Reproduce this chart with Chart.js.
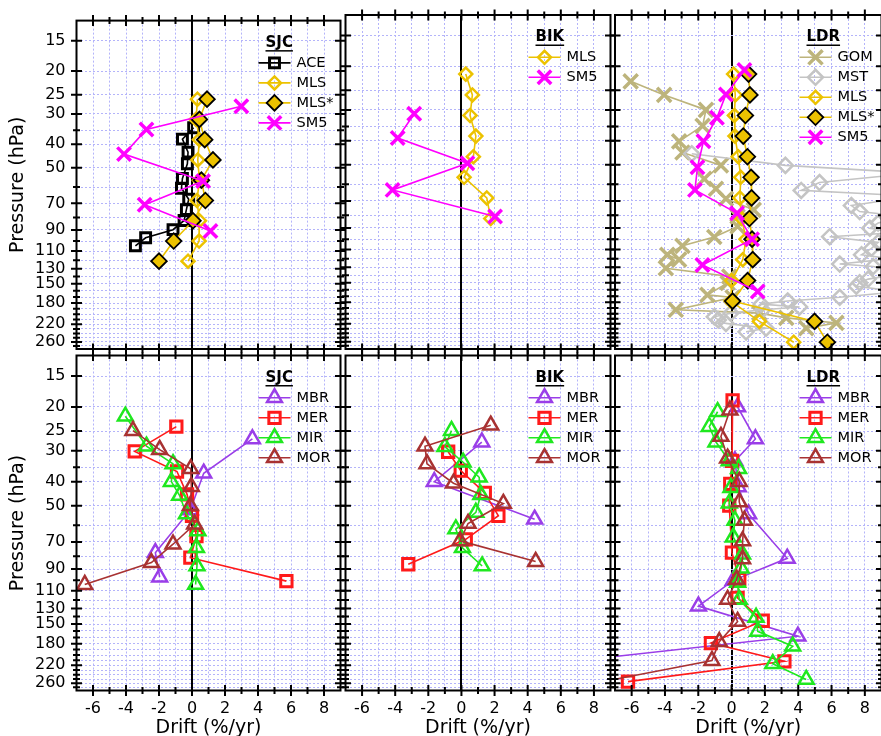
<!DOCTYPE html>
<html><head><meta charset="utf-8">
<script src="https://cdn.jsdelivr.net/npm/chart.js@4/dist/chart.umd.min.js"></script>
<style>
html,body{margin:0;padding:0;background:#fff;width:881px;height:736px;overflow:hidden;position:relative;}
canvas{position:absolute;left:0;top:0;}
</style></head><body>
<canvas id="p0" width="900" height="740"></canvas>
<canvas id="p1" width="900" height="740"></canvas>
<canvas id="p2" width="900" height="740"></canvas>
<canvas id="p3" width="900" height="740"></canvas>
<canvas id="p4" width="900" height="740"></canvas>
<canvas id="p5" width="900" height="740"></canvas>
<script>
// ---------- tick values / labels ----------
const X_TICK_VALUES = [-7,-6,-5,-4,-3,-2,-1,0,1,2,3,4,5,6,7,8,9];
const X_TICK_LABELS = ['-6','-4','-2','0','2','4','6','8'];
const Y_TICK_VALUES = [15,20,25,30,35,40,50,60,70,80,90,100,110,120,130,140,150,160,170,180,190,200,210,220,230,240,250,260,270];
const Y_TICK_LABELS = [15,20,25,30,40,50,70,90,110,130,150,180,220,260];
const SITES = ['SJC','BIK','LDR'];

// ---------- top row: SJC ----------
const SJC_ACE_P = [34.2,38.1,43.1,48.1,55.3,60.7,67.3,74.3,82.3,89.8,97,104.6];
const SJC_ACE_D = [0.10,-0.58,-0.24,-0.28,-0.58,-0.64,-0.20,-0.34,-0.48,-1.15,-2.81,-3.43];
const SJC_MLS_P = [26.1,31.6,38.3,46.4,56.2,68.1,82.5,100,121];
const SJC_MLS_D = [0.33,0.25,0.45,0.35,0.45,0.30,0.45,0.43,-0.24];
const SJC_MLSS_D = [0.91,0.45,0.77,1.27,0.57,0.81,0.06,-1.11,-2.0];
const SJC_SM5_P = [27.9,34.8,43.9,56.7,70.9,90.9];
const SJC_SM5_D = [2.99,-2.76,-4.12,0.67,-2.87,1.12];
// ---------- top row: BIK ----------
const BIK_MLS_P = [21.5,26.1,31.6,38.3,46.4,56.2,68.1,82.5];
const BIK_MLS_D = [0.26,0.66,0.52,0.87,0.72,0.16,1.53,1.77];
const BIK_SM5_P = [31.1,39,49.3,63.2,81];
const BIK_SM5_D = [-2.85,-3.85,0.36,-4.16,2.03];
// ---------- top row: LDR ----------
const LDR_GOM_P = [23,26.1,30,34.8,40.2,44.6,50.3,57,62.5,68.6,76.1,81,88.8,98,106.4,115.6,121,131,141.6,150.4,168,172,193,199,208,218,229];
const LDR_GOM_D = [-6.06,-4.05,-1.54,-1.74,-3.15,-2.95,-0.64,-1.64,-0.94,-0.34,1.33,0.36,0.36,-1.04,-2.95,-3.86,-3.15,-3.95,-0.14,-0.24,-1.45,0.06,-3.35,1.67,3.28,6.29,4.48];
const LDR_MST_P = [45.1,50.3,54,59,63.5,67,73.1,77.3,81,86,90.3,94,97.7,103,108.9,115.6,120,126,129,137,145,150,155,163,171.8,177.8,183,188,193,199,206,212,219,229,237];
const LDR_MST_D = [-2.39,3.23,11,5.28,4.18,11,7.19,7.69,10.5,8.8,8.3,10,5.89,8.8,8.4,7.8,9.5,6.49,8.5,10.5,8.2,7.69,7.49,10,6.49,3.37,1.77,4.08,1.87,-0.04,-1.04,-0.8,-0.34,2.07,0.87];
const LDR_MLS_P = [21.5,26.1,31.6,38.3,46.4,56.2,68.1,82.5,100,121,147,178,215,261];
const LDR_MLS_D = [0.12,0.22,0.17,0.2,0.4,0.55,0.5,0.6,0.87,0.67,0.0,-0.04,1.67,3.73];
const LDR_MLSS_D = [1.02,1.1,0.83,0.7,0.95,1.17,1.2,1.07,1.23,1.27,0.96,0.06,4.98,5.75];
const LDR_SM5_P = [20.7,26,32.3,40.2,51.2,63.2,78.6,100,127.2,162.8];
const LDR_SM5_D = [0.77,-0.34,-0.88,-1.69,-2.05,-2.2,0.33,1.23,-1.75,1.57];

// ---------- bottom row: SJC ----------
const SJC_MBR_P = [26.9,37,52,77.3,97];
const SJC_MBR_D = [3.66,0.71,-0.1,-2.22,-1.96];
const SJC_MER_P = [24,30.2,36.4,45,55,66.3,81,100.7];
const SJC_MER_D = [-0.95,-3.47,-0.91,-0.3,0.0,0.27,-0.1,5.72];
const SJC_MIR_P = [21.8,28.8,33.9,40,45.5,54,63.2,73.9,87.5,103.9];
const SJC_MIR_D = [-4.04,-2.76,-1.15,-1.25,-0.75,-0.34,0.36,0.27,0.3,0.22];
const SJC_MOR_P = [24.9,29.7,35.5,41.9,50,59.4,71.5,84.8,104];
const SJC_MOR_D = [-3.58,-1.96,-0.08,-0.04,-0.1,0.16,-1.15,-2.46,-6.5];
// ---------- bottom row: BIK ----------
const BIK_MBR_P = [27.7,40,56.7];
const BIK_MBR_D = [1.23,-1.64,4.42];
const BIK_MER_P = [30.3,36.1,44.4,54.9,68.3,86.1];
const BIK_MER_D = [-0.8,-0.04,1.41,2.23,0.26,-3.21];
const BIK_MIR_P = [24.9,28.9,33.4,38.4,45.2,53.2,62.1,73.9,87.5];
const BIK_MIR_D = [-0.6,-1.0,0.1,1.07,1.17,0.87,-0.34,0.06,1.25];
const BIK_MOR_P = [23.7,28.8,33.9,40.6,49,59,69.3,84];
const BIK_MOR_D = [1.77,-2.2,-2.08,-0.48,2.53,0.4,-0.08,4.48];
// ---------- bottom row: LDR ----------
const LDR_MBR_P = [20,26.9,33,42,54,81.5,100,127,168,208];
const LDR_MBR_D = [0.36,1.43,0.2,0.4,1.02,3.34,0.1,-1.99,3.98,-8.5];
const LDR_MER_P = [18.8,33,40.8,50,77.3,99,117.6,145.5,179,212,256];
const LDR_MER_D = [0.06,0.03,-0.08,-0.14,0.02,0.46,0.36,1.87,-1.24,3.17,-6.22];
const LDR_MIR_P = [20.9,24,27.7,33,35.5,42.3,48.9,57.3,67,78.5,89.4,102,119.5,141,160.5,184.4,217,251];
const LDR_MIR_D = [-0.84,-1.34,-0.94,-0.14,0.42,-0.04,-0.14,0.2,0.1,0.66,0.57,0.36,0.46,1.47,1.57,3.67,2.47,4.48];
const LDR_MOR_P = [20.6,26.3,32.2,40,48.3,57.3,69.3,82,99.1,119.5,146.5,176.7,210.6,258];
const LDR_MOR_D = [-0.1,-0.64,-0.24,0.46,0.46,0.77,0.66,0.66,0.3,-0.24,0.36,-0.74,-1.18,-8.0];

// ---------- styles ----------
const STYLE = {
  'ACE':  {color:'#000000', shape:'rect',     r:7,   bw:3,   fill:'rgba(0,0,0,0)', edge:'#000000'},
  'MLS':  {color:'#ecc200', shape:'rectRot',  r:6.5, bw:2.5, fill:'rgba(0,0,0,0)', edge:'#ecc200'},
  'MLS*': {color:'#ecc200', shape:'rectRot',  r:7.8, bw:1.8, fill:'#ecc200',       edge:'#000000'},
  'SM5':  {color:'#ff00ff', shape:'crossRot', r:9.5, bw:3.5, fill:'#ff00ff',       edge:'#ff00ff'},
  'GOM':  {color:'#bdb47c', shape:'crossRot', r:10,  bw:3.5, fill:'#bdb47c',       edge:'#bdb47c'},
  'MST':  {color:'#c4c4c4', shape:'rectRot',  r:7.5, bw:2.5, fill:'rgba(0,0,0,0)', edge:'#c4c4c4'},
  'MBR':  {color:'#9a3ee8', shape:'triangle', r:8.6, bw:2.5, fill:'rgba(0,0,0,0)', edge:'#9a3ee8'},
  'MER':  {color:'#ff1a1a', shape:'rect',     r:8,   bw:3,   fill:'rgba(0,0,0,0)', edge:'#ff1a1a'},
  'MIR':  {color:'#1fe81f', shape:'triangle', r:8.6, bw:2.5, fill:'rgba(0,0,0,0)', edge:'#1fe81f'},
  'MOR':  {color:'#a83232', shape:'triangle', r:8.6, bw:2.5, fill:'rgba(0,0,0,0)', edge:'#a83232'}
};

const PANELS = [
  {row:0, col:0, series:[['ACE',SJC_ACE_P,SJC_ACE_D],['MLS',SJC_MLS_P,SJC_MLS_D],['MLS*',SJC_MLS_P,SJC_MLSS_D],['SM5',SJC_SM5_P,SJC_SM5_D]]},
  {row:0, col:1, series:[['MLS',BIK_MLS_P,BIK_MLS_D],['SM5',BIK_SM5_P,BIK_SM5_D]]},
  {row:0, col:2, series:[['GOM',LDR_GOM_P,LDR_GOM_D],['MST',LDR_MST_P,LDR_MST_D],['MLS',LDR_MLS_P,LDR_MLS_D],['MLS*',LDR_MLS_P,LDR_MLSS_D],['SM5',LDR_SM5_P,LDR_SM5_D]]},
  {row:1, col:0, series:[['MBR',SJC_MBR_P,SJC_MBR_D],['MER',SJC_MER_P,SJC_MER_D],['MIR',SJC_MIR_P,SJC_MIR_D],['MOR',SJC_MOR_P,SJC_MOR_D]]},
  {row:1, col:1, series:[['MBR',BIK_MBR_P,BIK_MBR_D],['MER',BIK_MER_P,BIK_MER_D],['MIR',BIK_MIR_P,BIK_MIR_D],['MOR',BIK_MOR_P,BIK_MOR_D]]},
  {row:1, col:2, series:[['MBR',LDR_MBR_P,LDR_MBR_D],['MER',LDR_MER_P,LDR_MER_D],['MIR',LDR_MIR_P,LDR_MIR_D],['MOR',LDR_MOR_P,LDR_MOR_D]]}
];

// ---------- layout ----------
const CW = 900, CH = 740;
const COL_L = [76.5, 345.5, 615], COL_R = [340.5, 610.5, 881.5];
const ROW_T = [15, 355.5], ROW_B = [349, 690.5];
const FONT = '"DejaVu Sans", "Verdana", sans-serif';
const GRID_COLOR = '#b4b4fa';
Chart.defaults.font.family = FONT;
Chart.defaults.color = '#000';

function drawMarker(ctx, ds, x, y) {
  const r = ds.pointRadius;
  ctx.save();
  ctx.lineWidth = ds.pointBorderWidth;
  ctx.strokeStyle = ds.pointBorderColor;
  ctx.fillStyle = ds.pointBackgroundColor;
  ctx.beginPath();
  if (ds.pointStyle === 'rect') {
    const h = r * Math.SQRT1_2;
    ctx.rect(x - h, y - h, 2 * h, 2 * h);
    ctx.fill(); ctx.stroke();
  } else if (ds.pointStyle === 'rectRot') {
    ctx.moveTo(x - r, y); ctx.lineTo(x, y - r); ctx.lineTo(x + r, y); ctx.lineTo(x, y + r); ctx.closePath();
    ctx.fill(); ctx.stroke();
  } else if (ds.pointStyle === 'triangle') {
    for (let k = 0; k < 3; k++) {
      const a = k * 2 * Math.PI / 3;
      const px = x + Math.sin(a) * r, py = y - Math.cos(a) * r;
      if (k === 0) ctx.moveTo(px, py); else ctx.lineTo(px, py);
    }
    ctx.closePath(); ctx.fill(); ctx.stroke();
  } else if (ds.pointStyle === 'crossRot') {
    const h = r * Math.SQRT1_2;
    ctx.moveTo(x - h, y - h); ctx.lineTo(x + h, y + h);
    ctx.moveTo(x - h, y + h); ctx.lineTo(x + h, y - h);
    ctx.stroke();
  }
  ctx.restore();
}

const framePlugin = {
  id: 'panelFrame',
  afterDraw(chart) {
    const {ctx, chartArea: a} = chart;
    const xs = chart.scales.x, ys = chart.scales.y;
    ctx.save();
    ctx.strokeStyle = '#000';
    ctx.lineWidth = 2;
    ctx.beginPath();
    Y_TICK_VALUES.forEach(v => {
      const py = ys.getPixelForValue(v);
      const len = Y_TICK_LABELS.includes(v) ? 5.5 : 3.5;
      ctx.moveTo(a.left - len, py); ctx.lineTo(a.left + len, py);
      ctx.moveTo(a.right - len, py); ctx.lineTo(a.right + len, py);
    });
    X_TICK_VALUES.forEach(v => {
      const px = xs.getPixelForValue(v);
      if (px < a.left + 1 || px > a.right - 1) return;
      const len = (v % 2 === 0) ? 5.5 : 3.5;
      ctx.moveTo(px, a.top - len); ctx.lineTo(px, a.top + len);
      ctx.moveTo(px, a.bottom - len); ctx.lineTo(px, a.bottom + len);
    });
    ctx.stroke();
    ctx.strokeRect(a.left, a.top, a.right - a.left, a.bottom - a.top);
    ctx.restore();
  }
};

const legendPlugin = {
  id: 'panelLegend',
  afterDatasetsDraw(chart, args, opts) {
    const {ctx, chartArea: a} = chart;
    ctx.save();
    ctx.textBaseline = 'middle';
    ctx.textAlign = 'left';
    ctx.fillStyle = '#000';
    ctx.font = 'bold 15px ' + FONT;
    const hx = a.right - 75, hy = a.top + 22.5;
    ctx.fillText(opts.title, hx, hy);
    const w = ctx.measureText(opts.title).width;
    ctx.fillRect(hx, hy + 7, w, 1.5);
    ctx.font = '14.5px ' + FONT;
    chart.data.datasets.forEach((ds, i) => {
      const yy = a.top + 42.3 + i * 20;
      ctx.strokeStyle = ds.borderColor;
      ctx.lineWidth = ds.borderWidth;
      ctx.beginPath(); ctx.moveTo(a.right - 82, yy); ctx.lineTo(a.right - 50, yy); ctx.stroke();
      drawMarker(ctx, ds, a.right - 66, yy);
      ctx.fillStyle = '#000';
      ctx.fillText(ds.label, a.right - 44, yy);
    });
    ctx.restore();
  }
};

PANELS.forEach((panel, idx) => {
  const isLeft = panel.col === 0, isBottom = panel.row === 1;
  const L = COL_L[panel.col], R = COL_R[panel.col], T = ROW_T[panel.row], B = ROW_B[panel.row];
  const datasets = panel.series.map(([name, P, D], i) => {
    const st = STYLE[name];
    return {
      label: name,
      data: P.map((p, k) => ({x: D[k], y: p})),
      borderColor: st.color,
      backgroundColor: st.color,
      borderWidth: 1.6,
      pointStyle: st.shape,
      pointRadius: st.r,
      pointBorderWidth: st.bw,
      pointBackgroundColor: st.fill,
      pointBorderColor: st.edge,
      fill: false,
      tension: 0,
      order: -i
    };
  });
  new Chart(document.getElementById('p' + idx), {
    type: 'line',
    data: {datasets},
    options: {
      responsive: false,
      animation: false,
      devicePixelRatio: 1,
      events: [],
      layout: {padding: {left: isLeft ? 0 : L, top: T, right: CW - R, bottom: isBottom ? 0 : CH - B}},
      plugins: {legend: {display: false}, tooltip: {enabled: false}, panelLegend: {title: SITES[panel.col]}},
      scales: {
        x: {
          type: 'linear', position: 'bottom', min: -7, max: 9,
          afterBuildTicks: s => { s.ticks = X_TICK_VALUES.map(v => ({value: v})); },
          afterFit: s => { s.height = isBottom ? CH - B : 0; },
          ticks: {display: isBottom, autoSkip: false, maxRotation: 0, padding: 9, color: '#000',
                  font: {family: FONT, size: 16},
                  callback: v => X_TICK_LABELS.includes(String(v)) ? String(v) : ''},
          grid: {drawTicks: false, color: c => (c.tick && c.tick.value === 0) ? '#000' : GRID_COLOR,
                 lineWidth: c => (c.tick && c.tick.value === 0) ? 2 : 1},
          border: {display: false, dash: c => (c.tick && c.tick.value === 0) ? [] : [2, 2]},
          title: {display: isBottom, text: 'Drift (%/yr)', color: '#000',
                  font: {family: FONT, size: 19, lineHeight: 1}, padding: {top: 0, bottom: 2.5}}
        },
        y: {
          type: 'logarithmic', position: 'left', reverse: true, min: 12.4, max: 278,
          afterBuildTicks: s => { s.ticks = Y_TICK_VALUES.map(v => ({value: v})); },
          afterFit: s => { s.width = isLeft ? L : 0; },
          ticks: {display: isLeft, autoSkip: false, padding: 11, color: '#000',
                  font: {family: FONT, size: 16},
                  callback: v => Y_TICK_LABELS.includes(v) ? String(v) : ''},
          grid: {drawTicks: false, color: GRID_COLOR, lineWidth: 1},
          border: {display: false, dash: [2, 2]},
          title: {display: isLeft, text: 'Pressure (hPa)', color: '#000',
                  font: {family: FONT, size: 19, lineHeight: 1}, padding: {top: 9, bottom: 0}}
        }
      }
    },
    plugins: [framePlugin, legendPlugin]
  });
});
</script>
</body></html>
